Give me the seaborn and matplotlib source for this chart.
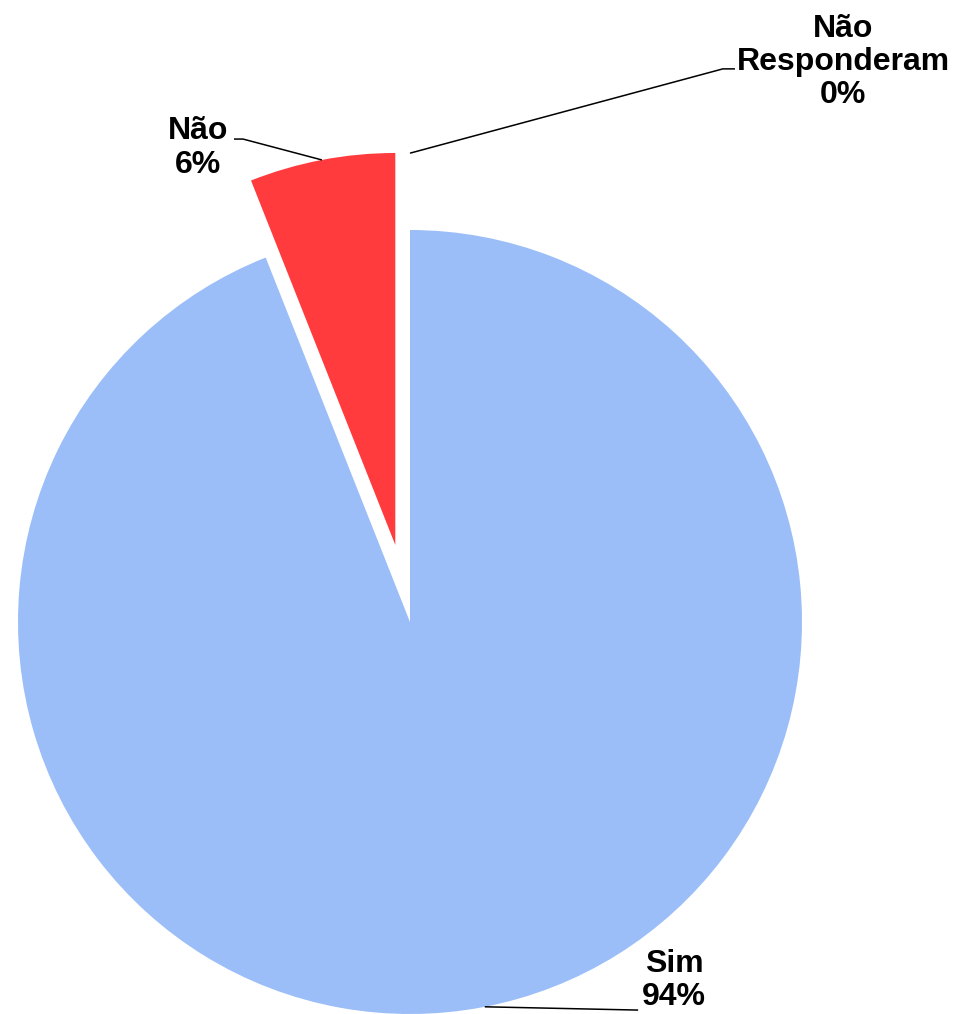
import numpy as np
import matplotlib
matplotlib.use("Agg")
import matplotlib.pyplot as plt
import seaborn as sns

# ── Dados ──────────────────────────────────────────────────────────────
categorias = ["Sim", "Não", "Não\nResponderam"]
valores = [94, 6, 0]
rotulos_pct = ["94%", "6%", "0%"]
cores = ["#9BBEF8", "#FF3B3E", "#7F7F7F"]
explode = [0.0, 0.2, 0.0]

sns.set_theme(style="white")
plt.rcParams["font.family"] = ["Liberation Sans", "DejaVu Sans"]

W, H, DPI = 958, 1014, 100
CX, CY, R = 410, 622, 392  # centro e raio em pixels

fig = plt.figure(figsize=(W / DPI, H / DPI), dpi=DPI)
fig.patch.set_facecolor("white")
ax = fig.add_axes([0, 0, 1, 1])

wedges, _ = ax.pie(valores, colors=cores, explode=explode, startangle=90,
                   counterclock=False, radius=1.0,
                   wedgeprops={"linewidth": 0})

# limites depois do pie (o pie redefine os limites)
ax.set_aspect("auto")
ax.set_xlim(-CX / R, (W - CX) / R)
ax.set_ylim(-(H - CY) / R, CY / R)
ax.axis("off")


def ponto_fatia(w, ang_deg, r=1.0):
    cx, cy = w.center
    a = np.deg2rad(ang_deg)
    return cx + r * w.r * np.cos(a), cy + r * w.r * np.sin(a)


# posicoes dos rotulos e linhas guia (coordenadas do eixo)
layout = [
    # (angulo do ponto, raio relativo, cotovelo, fim, posicao texto)
    (-79.0, 1.0, (0.582, -0.990), (0.582, -0.990), (0.674, -0.915)),
    (None, 1.0, (-0.426, 1.232), (-0.449, 1.232), (-0.540, 1.209)),
    (90.0, 1.196, (0.798, 1.411), (0.829, 1.411), (1.105, 1.429)),
]

for w, cat, pct, (ang, rr, cot, fim, txt) in zip(wedges, categorias, rotulos_pct, layout):
    if ang is None:
        ang = (w.theta1 + w.theta2) / 2
    x0, y0 = ponto_fatia(w, ang, rr)
    ax.plot([x0, cot[0], fim[0]], [y0, cot[1], fim[1]],
            color="black", linewidth=1.1, solid_capstyle="butt")
    ax.text(txt[0], txt[1], f"{cat}\n{pct}", ha="center", va="center",
            fontsize=23, fontweight="bold", color="black", linespacing=1.14)

plt.savefig("out.png", dpi=DPI, facecolor="white")
